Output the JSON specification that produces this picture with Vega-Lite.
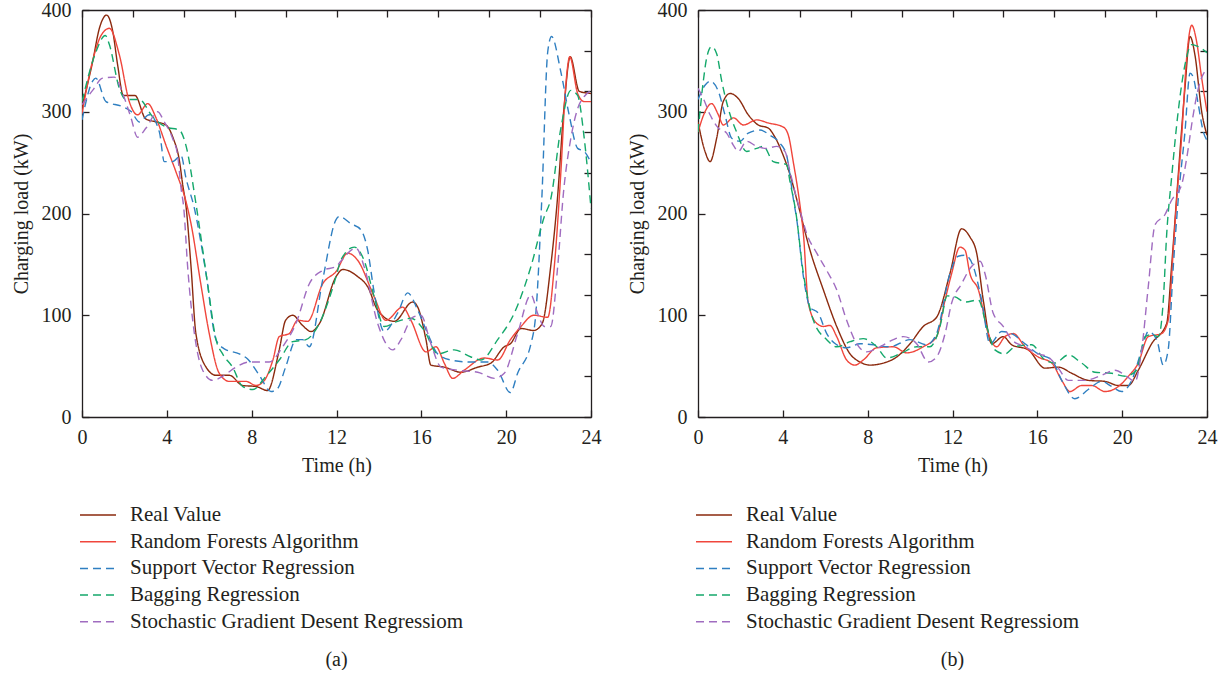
{
  "$schema": "https://vega.github.io/schema/vega-lite/v6.json",
  "padding": {"left": 11, "top": 0, "right": 5, "bottom": 0},
  "spacing": 26,
  "config": {
    "font": "Liberation Serif",
    "view": {"stroke": null},
    "axis": {"labelFont": "Liberation Serif", "labelFontSize": 20, "labelColor": "#231f20", "titleFont": "Liberation Serif", "titleFontSize": 20, "titleFontWeight": "normal", "titleColor": "#231f20", "domainColor": "#231f20", "tickColor": "#231f20", "grid": false, "domainWidth": 1.3, "tickWidth": 1.3, "tickSize": -7},
    "legend": {"labelFont": "Liberation Serif", "labelFontSize": 21, "labelColor": "#231f20", "labelLimit": 600},
    "title": {"font": "Liberation Serif", "fontSize": 20, "fontWeight": "normal", "color": "#231f20"}
  },
  "datasets": {
    "a": [
      {"m":"Real Value","t":0,"v":305},{"m":"Real Value","t":0.5,"v":349},{"m":"Real Value","t":0.82,"v":382},{"m":"Real Value","t":1.16,"v":395},{"m":"Real Value","t":1.45,"v":379},{"m":"Real Value","t":1.68,"v":346},{"m":"Real Value","t":1.95,"v":316},{"m":"Real Value","t":2.5,"v":316},{"m":"Real Value","t":3.0,"v":293},{"m":"Real Value","t":3.5,"v":290},{"m":"Real Value","t":3.96,"v":287},{"m":"Real Value","t":4.3,"v":274},{"m":"Real Value","t":4.6,"v":251},{"m":"Real Value","t":4.75,"v":228},{"m":"Real Value","t":4.9,"v":208},{"m":"Real Value","t":5.14,"v":148},{"m":"Real Value","t":5.37,"v":82},{"m":"Real Value","t":5.85,"v":49},{"m":"Real Value","t":6.32,"v":41},{"m":"Real Value","t":6.95,"v":41},{"m":"Real Value","t":7.57,"v":31},{"m":"Real Value","t":8.2,"v":30},{"m":"Real Value","t":8.75,"v":26},{"m":"Real Value","t":9.3,"v":66},{"m":"Real Value","t":9.6,"v":95},{"m":"Real Value","t":9.93,"v":100},{"m":"Real Value","t":10.4,"v":90},{"m":"Real Value","t":10.8,"v":84},{"m":"Real Value","t":11.2,"v":92},{"m":"Real Value","t":11.98,"v":138},{"m":"Real Value","t":12.3,"v":145},{"m":"Real Value","t":13.0,"v":138},{"m":"Real Value","t":13.47,"v":128},{"m":"Real Value","t":13.94,"v":105},{"m":"Real Value","t":14.72,"v":94},{"m":"Real Value","t":15.59,"v":113},{"m":"Real Value","t":15.83,"v":108},{"m":"Real Value","t":16.22,"v":76},{"m":"Real Value","t":16.45,"v":51},{"m":"Real Value","t":17.08,"v":49},{"m":"Real Value","t":17.87,"v":44},{"m":"Real Value","t":18.66,"v":49},{"m":"Real Value","t":19.28,"v":53},{"m":"Real Value","t":19.91,"v":69},{"m":"Real Value","t":20.2,"v":72},{"m":"Real Value","t":20.7,"v":87},{"m":"Real Value","t":21.3,"v":85},{"m":"Real Value","t":21.7,"v":92},{"m":"Real Value","t":22.1,"v":148},{"m":"Real Value","t":22.4,"v":210},{"m":"Real Value","t":22.74,"v":307},{"m":"Real Value","t":23.02,"v":354},{"m":"Real Value","t":23.45,"v":320},{"m":"Real Value","t":24,"v":318},
      {"m":"Random Forests Algorithm","t":0,"v":298},{"m":"Random Forests Algorithm","t":0.5,"v":350},{"m":"Random Forests Algorithm","t":0.9,"v":375},{"m":"Random Forests Algorithm","t":1.29,"v":382},{"m":"Random Forests Algorithm","t":1.76,"v":356},{"m":"Random Forests Algorithm","t":2.23,"v":310},{"m":"Random Forests Algorithm","t":2.62,"v":297},{"m":"Random Forests Algorithm","t":3.1,"v":308},{"m":"Random Forests Algorithm","t":3.49,"v":294},{"m":"Random Forests Algorithm","t":3.96,"v":267},{"m":"Random Forests Algorithm","t":4.43,"v":241},{"m":"Random Forests Algorithm","t":4.9,"v":212},{"m":"Random Forests Algorithm","t":5.14,"v":190},{"m":"Random Forests Algorithm","t":5.6,"v":131},{"m":"Random Forests Algorithm","t":6.0,"v":82},{"m":"Random Forests Algorithm","t":6.47,"v":43},{"m":"Random Forests Algorithm","t":6.95,"v":35},{"m":"Random Forests Algorithm","t":7.73,"v":35},{"m":"Random Forests Algorithm","t":8.2,"v":31},{"m":"Random Forests Algorithm","t":8.6,"v":36},{"m":"Random Forests Algorithm","t":9.0,"v":56},{"m":"Random Forests Algorithm","t":9.3,"v":79},{"m":"Random Forests Algorithm","t":9.77,"v":82},{"m":"Random Forests Algorithm","t":10.17,"v":95},{"m":"Random Forests Algorithm","t":10.64,"v":94},{"m":"Random Forests Algorithm","t":11.35,"v":131},{"m":"Random Forests Algorithm","t":11.98,"v":143},{"m":"Random Forests Algorithm","t":12.53,"v":161},{"m":"Random Forests Algorithm","t":13.0,"v":154},{"m":"Random Forests Algorithm","t":13.78,"v":118},{"m":"Random Forests Algorithm","t":14.33,"v":95},{"m":"Random Forests Algorithm","t":15.12,"v":108},{"m":"Random Forests Algorithm","t":15.51,"v":95},{"m":"Random Forests Algorithm","t":16.22,"v":64},{"m":"Random Forests Algorithm","t":16.69,"v":69},{"m":"Random Forests Algorithm","t":17.08,"v":53},{"m":"Random Forests Algorithm","t":17.48,"v":38},{"m":"Random Forests Algorithm","t":18.02,"v":46},{"m":"Random Forests Algorithm","t":18.97,"v":58},{"m":"Random Forests Algorithm","t":19.6,"v":56},{"m":"Random Forests Algorithm","t":20.2,"v":76},{"m":"Random Forests Algorithm","t":20.7,"v":89},{"m":"Random Forests Algorithm","t":21.3,"v":100},{"m":"Random Forests Algorithm","t":21.96,"v":98},{"m":"Random Forests Algorithm","t":22.27,"v":148},{"m":"Random Forests Algorithm","t":22.58,"v":241},{"m":"Random Forests Algorithm","t":22.8,"v":323},{"m":"Random Forests Algorithm","t":23.0,"v":354},{"m":"Random Forests Algorithm","t":23.37,"v":318},{"m":"Random Forests Algorithm","t":23.68,"v":310},{"m":"Random Forests Algorithm","t":24,"v":310},
      {"m":"Support Vector Regression","t":0,"v":292},{"m":"Support Vector Regression","t":0.5,"v":330},{"m":"Support Vector Regression","t":0.65,"v":333},{"m":"Support Vector Regression","t":1.13,"v":310},{"m":"Support Vector Regression","t":1.92,"v":305},{"m":"Support Vector Regression","t":2.33,"v":300},{"m":"Support Vector Regression","t":2.7,"v":290},{"m":"Support Vector Regression","t":3.17,"v":297},{"m":"Support Vector Regression","t":3.65,"v":280},{"m":"Support Vector Regression","t":3.88,"v":251},{"m":"Support Vector Regression","t":4.27,"v":251},{"m":"Support Vector Regression","t":4.67,"v":257},{"m":"Support Vector Regression","t":4.9,"v":235},{"m":"Support Vector Regression","t":5.3,"v":205},{"m":"Support Vector Regression","t":5.85,"v":141},{"m":"Support Vector Regression","t":6.32,"v":76},{"m":"Support Vector Regression","t":6.71,"v":67},{"m":"Support Vector Regression","t":7.42,"v":62},{"m":"Support Vector Regression","t":7.81,"v":57},{"m":"Support Vector Regression","t":8.36,"v":41},{"m":"Support Vector Regression","t":8.91,"v":25},{"m":"Support Vector Regression","t":9.22,"v":28},{"m":"Support Vector Regression","t":9.6,"v":49},{"m":"Support Vector Regression","t":10.1,"v":76},{"m":"Support Vector Regression","t":10.4,"v":76},{"m":"Support Vector Regression","t":10.72,"v":69},{"m":"Support Vector Regression","t":11.35,"v":135},{"m":"Support Vector Regression","t":11.98,"v":194},{"m":"Support Vector Regression","t":12.13,"v":197},{"m":"Support Vector Regression","t":12.68,"v":190},{"m":"Support Vector Regression","t":13.15,"v":184},{"m":"Support Vector Regression","t":13.47,"v":164},{"m":"Support Vector Regression","t":13.78,"v":122},{"m":"Support Vector Regression","t":14.25,"v":84},{"m":"Support Vector Regression","t":14.88,"v":102},{"m":"Support Vector Regression","t":15.36,"v":122},{"m":"Support Vector Regression","t":15.83,"v":105},{"m":"Support Vector Regression","t":16.3,"v":82},{"m":"Support Vector Regression","t":16.77,"v":62},{"m":"Support Vector Regression","t":17.4,"v":56},{"m":"Support Vector Regression","t":18.34,"v":54},{"m":"Support Vector Regression","t":19.13,"v":54},{"m":"Support Vector Regression","t":19.6,"v":46},{"m":"Support Vector Regression","t":20.2,"v":24},{"m":"Support Vector Regression","t":20.54,"v":43},{"m":"Support Vector Regression","t":21.17,"v":72},{"m":"Support Vector Regression","t":21.4,"v":102},{"m":"Support Vector Regression","t":21.68,"v":214},{"m":"Support Vector Regression","t":21.96,"v":359},{"m":"Support Vector Regression","t":22.14,"v":374},{"m":"Support Vector Regression","t":22.58,"v":339},{"m":"Support Vector Regression","t":22.97,"v":297},{"m":"Support Vector Regression","t":23.37,"v":264},{"m":"Support Vector Regression","t":23.68,"v":261},{"m":"Support Vector Regression","t":24,"v":250},
      {"m":"Bagging Regression","t":0,"v":310},{"m":"Bagging Regression","t":0.66,"v":359},{"m":"Bagging Regression","t":1.1,"v":375},{"m":"Bagging Regression","t":1.29,"v":366},{"m":"Bagging Regression","t":1.76,"v":323},{"m":"Bagging Regression","t":2.07,"v":312},{"m":"Bagging Regression","t":2.7,"v":312},{"m":"Bagging Regression","t":3.33,"v":295},{"m":"Bagging Regression","t":3.96,"v":285},{"m":"Bagging Regression","t":4.59,"v":282},{"m":"Bagging Regression","t":4.9,"v":267},{"m":"Bagging Regression","t":5.37,"v":210},{"m":"Bagging Regression","t":5.92,"v":131},{"m":"Bagging Regression","t":6.32,"v":76},{"m":"Bagging Regression","t":6.63,"v":62},{"m":"Bagging Regression","t":7.1,"v":49},{"m":"Bagging Regression","t":7.57,"v":30},{"m":"Bagging Regression","t":8.05,"v":27},{"m":"Bagging Regression","t":8.67,"v":40},{"m":"Bagging Regression","t":9.3,"v":56},{"m":"Bagging Regression","t":9.93,"v":74},{"m":"Bagging Regression","t":10.56,"v":76},{"m":"Bagging Regression","t":11.19,"v":92},{"m":"Bagging Regression","t":11.98,"v":138},{"m":"Bagging Regression","t":12.2,"v":154},{"m":"Bagging Regression","t":12.84,"v":167},{"m":"Bagging Regression","t":13.3,"v":154},{"m":"Bagging Regression","t":13.78,"v":118},{"m":"Bagging Regression","t":14.25,"v":89},{"m":"Bagging Regression","t":14.88,"v":94},{"m":"Bagging Regression","t":15.51,"v":97},{"m":"Bagging Regression","t":16.14,"v":85},{"m":"Bagging Regression","t":16.77,"v":62},{"m":"Bagging Regression","t":17.55,"v":66},{"m":"Bagging Regression","t":18.34,"v":59},{"m":"Bagging Regression","t":18.81,"v":56},{"m":"Bagging Regression","t":19.6,"v":76},{"m":"Bagging Regression","t":20.38,"v":102},{"m":"Bagging Regression","t":21.17,"v":148},{"m":"Bagging Regression","t":21.8,"v":197},{"m":"Bagging Regression","t":22.1,"v":214},{"m":"Bagging Regression","t":22.58,"v":284},{"m":"Bagging Regression","t":23.05,"v":321},{"m":"Bagging Regression","t":23.37,"v":316},{"m":"Bagging Regression","t":23.68,"v":274},{"m":"Bagging Regression","t":24,"v":205},
      {"m":"Stochastic Gradient Desent Regressiom","t":0,"v":307},{"m":"Stochastic Gradient Desent Regressiom","t":0.5,"v":321},{"m":"Stochastic Gradient Desent Regressiom","t":0.97,"v":333},{"m":"Stochastic Gradient Desent Regressiom","t":1.52,"v":334},{"m":"Stochastic Gradient Desent Regressiom","t":1.92,"v":318},{"m":"Stochastic Gradient Desent Regressiom","t":2.31,"v":294},{"m":"Stochastic Gradient Desent Regressiom","t":2.62,"v":275},{"m":"Stochastic Gradient Desent Regressiom","t":3.02,"v":284},{"m":"Stochastic Gradient Desent Regressiom","t":3.57,"v":300},{"m":"Stochastic Gradient Desent Regressiom","t":3.88,"v":290},{"m":"Stochastic Gradient Desent Regressiom","t":4.27,"v":274},{"m":"Stochastic Gradient Desent Regressiom","t":4.51,"v":257},{"m":"Stochastic Gradient Desent Regressiom","t":4.67,"v":225},{"m":"Stochastic Gradient Desent Regressiom","t":4.8,"v":205},{"m":"Stochastic Gradient Desent Regressiom","t":4.98,"v":148},{"m":"Stochastic Gradient Desent Regressiom","t":5.3,"v":82},{"m":"Stochastic Gradient Desent Regressiom","t":5.69,"v":46},{"m":"Stochastic Gradient Desent Regressiom","t":6.16,"v":36},{"m":"Stochastic Gradient Desent Regressiom","t":6.63,"v":40},{"m":"Stochastic Gradient Desent Regressiom","t":7.26,"v":49},{"m":"Stochastic Gradient Desent Regressiom","t":7.89,"v":54},{"m":"Stochastic Gradient Desent Regressiom","t":8.83,"v":54},{"m":"Stochastic Gradient Desent Regressiom","t":9.46,"v":69},{"m":"Stochastic Gradient Desent Regressiom","t":10.09,"v":92},{"m":"Stochastic Gradient Desent Regressiom","t":10.72,"v":131},{"m":"Stochastic Gradient Desent Regressiom","t":11.35,"v":144},{"m":"Stochastic Gradient Desent Regressiom","t":11.98,"v":148},{"m":"Stochastic Gradient Desent Regressiom","t":12.2,"v":153},{"m":"Stochastic Gradient Desent Regressiom","t":12.92,"v":166},{"m":"Stochastic Gradient Desent Regressiom","t":13.3,"v":148},{"m":"Stochastic Gradient Desent Regressiom","t":13.94,"v":92},{"m":"Stochastic Gradient Desent Regressiom","t":14.65,"v":66},{"m":"Stochastic Gradient Desent Regressiom","t":15.04,"v":76},{"m":"Stochastic Gradient Desent Regressiom","t":15.59,"v":98},{"m":"Stochastic Gradient Desent Regressiom","t":15.98,"v":100},{"m":"Stochastic Gradient Desent Regressiom","t":16.45,"v":72},{"m":"Stochastic Gradient Desent Regressiom","t":16.93,"v":49},{"m":"Stochastic Gradient Desent Regressiom","t":17.71,"v":46},{"m":"Stochastic Gradient Desent Regressiom","t":18.66,"v":44},{"m":"Stochastic Gradient Desent Regressiom","t":19.44,"v":38},{"m":"Stochastic Gradient Desent Regressiom","t":19.91,"v":43},{"m":"Stochastic Gradient Desent Regressiom","t":20.54,"v":82},{"m":"Stochastic Gradient Desent Regressiom","t":21.17,"v":120},{"m":"Stochastic Gradient Desent Regressiom","t":21.48,"v":102},{"m":"Stochastic Gradient Desent Regressiom","t":21.8,"v":89},{"m":"Stochastic Gradient Desent Regressiom","t":22.1,"v":89},{"m":"Stochastic Gradient Desent Regressiom","t":22.43,"v":148},{"m":"Stochastic Gradient Desent Regressiom","t":22.7,"v":220},{"m":"Stochastic Gradient Desent Regressiom","t":23.05,"v":274},{"m":"Stochastic Gradient Desent Regressiom","t":23.37,"v":303},{"m":"Stochastic Gradient Desent Regressiom","t":23.68,"v":315},{"m":"Stochastic Gradient Desent Regressiom","t":24,"v":321}
    ],
    "b": [
      {"m":"Real Value","t":0,"v":290},{"m":"Real Value","t":0.33,"v":261},{"m":"Real Value","t":0.57,"v":251},{"m":"Real Value","t":0.88,"v":274},{"m":"Real Value","t":1.19,"v":310},{"m":"Real Value","t":1.51,"v":318},{"m":"Real Value","t":1.9,"v":313},{"m":"Real Value","t":2.37,"v":297},{"m":"Real Value","t":2.84,"v":287},{"m":"Real Value","t":3.31,"v":284},{"m":"Real Value","t":3.63,"v":275},{"m":"Real Value","t":4.02,"v":257},{"m":"Real Value","t":4.34,"v":238},{"m":"Real Value","t":4.73,"v":208},{"m":"Real Value","t":5.28,"v":164},{"m":"Real Value","t":5.91,"v":125},{"m":"Real Value","t":6.54,"v":89},{"m":"Real Value","t":7.17,"v":62},{"m":"Real Value","t":7.64,"v":54},{"m":"Real Value","t":8.11,"v":51},{"m":"Real Value","t":8.74,"v":53},{"m":"Real Value","t":9.37,"v":59},{"m":"Real Value","t":10.0,"v":72},{"m":"Real Value","t":10.62,"v":89},{"m":"Real Value","t":11.25,"v":98},{"m":"Real Value","t":11.88,"v":141},{"m":"Real Value","t":12.43,"v":185},{"m":"Real Value","t":12.82,"v":177},{"m":"Real Value","t":13.14,"v":161},{"m":"Real Value","t":13.45,"v":115},{"m":"Real Value","t":13.85,"v":72},{"m":"Real Value","t":14.39,"v":79},{"m":"Real Value","t":14.79,"v":71},{"m":"Real Value","t":15.57,"v":66},{"m":"Real Value","t":16.36,"v":48},{"m":"Real Value","t":16.99,"v":49},{"m":"Real Value","t":17.62,"v":43},{"m":"Real Value","t":18.4,"v":36},{"m":"Real Value","t":19.19,"v":35},{"m":"Real Value","t":19.82,"v":31},{"m":"Real Value","t":20.29,"v":31},{"m":"Real Value","t":20.76,"v":46},{"m":"Real Value","t":21.39,"v":72},{"m":"Real Value","t":22.1,"v":92},{"m":"Real Value","t":22.33,"v":148},{"m":"Real Value","t":22.6,"v":225},{"m":"Real Value","t":22.96,"v":323},{"m":"Real Value","t":23.2,"v":374},{"m":"Real Value","t":23.43,"v":356},{"m":"Real Value","t":23.75,"v":300},{"m":"Real Value","t":24,"v":277},
      {"m":"Random Forests Algorithm","t":0,"v":280},{"m":"Random Forests Algorithm","t":0.33,"v":300},{"m":"Random Forests Algorithm","t":0.64,"v":308},{"m":"Random Forests Algorithm","t":0.96,"v":297},{"m":"Random Forests Algorithm","t":1.19,"v":287},{"m":"Random Forests Algorithm","t":1.67,"v":294},{"m":"Random Forests Algorithm","t":2.14,"v":287},{"m":"Random Forests Algorithm","t":2.77,"v":292},{"m":"Random Forests Algorithm","t":3.31,"v":289},{"m":"Random Forests Algorithm","t":4.02,"v":285},{"m":"Random Forests Algorithm","t":4.26,"v":277},{"m":"Random Forests Algorithm","t":4.49,"v":251},{"m":"Random Forests Algorithm","t":4.81,"v":208},{"m":"Random Forests Algorithm","t":4.97,"v":180},{"m":"Random Forests Algorithm","t":5.2,"v":112},{"m":"Random Forests Algorithm","t":5.6,"v":92},{"m":"Random Forests Algorithm","t":5.91,"v":89},{"m":"Random Forests Algorithm","t":6.22,"v":90},{"m":"Random Forests Algorithm","t":6.54,"v":79},{"m":"Random Forests Algorithm","t":7.01,"v":56},{"m":"Random Forests Algorithm","t":7.4,"v":51},{"m":"Random Forests Algorithm","t":7.79,"v":56},{"m":"Random Forests Algorithm","t":8.43,"v":68},{"m":"Random Forests Algorithm","t":9.21,"v":69},{"m":"Random Forests Algorithm","t":9.84,"v":63},{"m":"Random Forests Algorithm","t":10.62,"v":69},{"m":"Random Forests Algorithm","t":11.25,"v":79},{"m":"Random Forests Algorithm","t":11.65,"v":115},{"m":"Random Forests Algorithm","t":11.96,"v":141},{"m":"Random Forests Algorithm","t":12.35,"v":167},{"m":"Random Forests Algorithm","t":12.59,"v":164},{"m":"Random Forests Algorithm","t":12.82,"v":141},{"m":"Random Forests Algorithm","t":13.22,"v":125},{"m":"Random Forests Algorithm","t":13.69,"v":82},{"m":"Random Forests Algorithm","t":14.08,"v":69},{"m":"Random Forests Algorithm","t":14.47,"v":79},{"m":"Random Forests Algorithm","t":14.87,"v":82},{"m":"Random Forests Algorithm","t":15.42,"v":69},{"m":"Random Forests Algorithm","t":16.04,"v":59},{"m":"Random Forests Algorithm","t":16.68,"v":53},{"m":"Random Forests Algorithm","t":17.15,"v":36},{"m":"Random Forests Algorithm","t":17.54,"v":25},{"m":"Random Forests Algorithm","t":18.09,"v":31},{"m":"Random Forests Algorithm","t":18.56,"v":31},{"m":"Random Forests Algorithm","t":19.19,"v":25},{"m":"Random Forests Algorithm","t":19.82,"v":30},{"m":"Random Forests Algorithm","t":20.29,"v":40},{"m":"Random Forests Algorithm","t":20.76,"v":53},{"m":"Random Forests Algorithm","t":21.23,"v":79},{"m":"Random Forests Algorithm","t":21.86,"v":82},{"m":"Random Forests Algorithm","t":22.17,"v":95},{"m":"Random Forests Algorithm","t":22.41,"v":164},{"m":"Random Forests Algorithm","t":22.57,"v":213},{"m":"Random Forests Algorithm","t":22.8,"v":274},{"m":"Random Forests Algorithm","t":23.04,"v":353},{"m":"Random Forests Algorithm","t":23.28,"v":385},{"m":"Random Forests Algorithm","t":23.51,"v":369},{"m":"Random Forests Algorithm","t":23.75,"v":333},{"m":"Random Forests Algorithm","t":24,"v":300},
      {"m":"Support Vector Regression","t":0,"v":312},{"m":"Support Vector Regression","t":0.33,"v":326},{"m":"Support Vector Regression","t":0.57,"v":330},{"m":"Support Vector Regression","t":0.96,"v":320},{"m":"Support Vector Regression","t":1.27,"v":297},{"m":"Support Vector Regression","t":1.59,"v":274},{"m":"Support Vector Regression","t":1.98,"v":271},{"m":"Support Vector Regression","t":2.37,"v":279},{"m":"Support Vector Regression","t":2.92,"v":282},{"m":"Support Vector Regression","t":3.39,"v":277},{"m":"Support Vector Regression","t":3.87,"v":269},{"m":"Support Vector Regression","t":4.18,"v":257},{"m":"Support Vector Regression","t":4.49,"v":215},{"m":"Support Vector Regression","t":4.65,"v":195},{"m":"Support Vector Regression","t":4.97,"v":138},{"m":"Support Vector Regression","t":5.28,"v":108},{"m":"Support Vector Regression","t":5.67,"v":102},{"m":"Support Vector Regression","t":6.07,"v":82},{"m":"Support Vector Regression","t":6.54,"v":71},{"m":"Support Vector Regression","t":7.01,"v":68},{"m":"Support Vector Regression","t":7.64,"v":72},{"m":"Support Vector Regression","t":8.27,"v":71},{"m":"Support Vector Regression","t":9.05,"v":69},{"m":"Support Vector Regression","t":10.0,"v":76},{"m":"Support Vector Regression","t":10.78,"v":71},{"m":"Support Vector Regression","t":11.25,"v":82},{"m":"Support Vector Regression","t":11.88,"v":141},{"m":"Support Vector Regression","t":12.27,"v":158},{"m":"Support Vector Regression","t":12.59,"v":159},{"m":"Support Vector Regression","t":12.98,"v":148},{"m":"Support Vector Regression","t":13.37,"v":115},{"m":"Support Vector Regression","t":13.77,"v":72},{"m":"Support Vector Regression","t":14.32,"v":84},{"m":"Support Vector Regression","t":14.79,"v":82},{"m":"Support Vector Regression","t":15.42,"v":72},{"m":"Support Vector Regression","t":16.04,"v":62},{"m":"Support Vector Regression","t":16.68,"v":56},{"m":"Support Vector Regression","t":17.15,"v":36},{"m":"Support Vector Regression","t":17.77,"v":18},{"m":"Support Vector Regression","t":18.4,"v":27},{"m":"Support Vector Regression","t":19.03,"v":35},{"m":"Support Vector Regression","t":19.5,"v":30},{"m":"Support Vector Regression","t":19.98,"v":25},{"m":"Support Vector Regression","t":20.45,"v":36},{"m":"Support Vector Regression","t":20.92,"v":66},{"m":"Support Vector Regression","t":21.23,"v":84},{"m":"Support Vector Regression","t":21.63,"v":76},{"m":"Support Vector Regression","t":21.94,"v":51},{"m":"Support Vector Regression","t":22.17,"v":66},{"m":"Support Vector Regression","t":22.41,"v":148},{"m":"Support Vector Regression","t":22.64,"v":213},{"m":"Support Vector Regression","t":22.96,"v":280},{"m":"Support Vector Regression","t":23.2,"v":338},{"m":"Support Vector Regression","t":23.35,"v":334},{"m":"Support Vector Regression","t":23.59,"v":307},{"m":"Support Vector Regression","t":23.83,"v":280},{"m":"Support Vector Regression","t":24,"v":272},
      {"m":"Bagging Regression","t":0,"v":280},{"m":"Bagging Regression","t":0.25,"v":330},{"m":"Bagging Regression","t":0.41,"v":353},{"m":"Bagging Regression","t":0.64,"v":364},{"m":"Bagging Regression","t":0.88,"v":357},{"m":"Bagging Regression","t":1.12,"v":330},{"m":"Bagging Regression","t":1.43,"v":303},{"m":"Bagging Regression","t":1.82,"v":280},{"m":"Bagging Regression","t":2.29,"v":261},{"m":"Bagging Regression","t":2.77,"v":264},{"m":"Bagging Regression","t":3.08,"v":266},{"m":"Bagging Regression","t":3.55,"v":251},{"m":"Bagging Regression","t":4.18,"v":248},{"m":"Bagging Regression","t":4.34,"v":231},{"m":"Bagging Regression","t":4.6,"v":203},{"m":"Bagging Regression","t":4.97,"v":141},{"m":"Bagging Regression","t":5.44,"v":95},{"m":"Bagging Regression","t":6.07,"v":76},{"m":"Bagging Regression","t":6.54,"v":69},{"m":"Bagging Regression","t":7.17,"v":74},{"m":"Bagging Regression","t":7.79,"v":77},{"m":"Bagging Regression","t":8.43,"v":69},{"m":"Bagging Regression","t":8.9,"v":58},{"m":"Bagging Regression","t":9.52,"v":62},{"m":"Bagging Regression","t":10.31,"v":69},{"m":"Bagging Regression","t":10.94,"v":69},{"m":"Bagging Regression","t":11.41,"v":89},{"m":"Bagging Regression","t":11.75,"v":119},{"m":"Bagging Regression","t":12.12,"v":118},{"m":"Bagging Regression","t":12.59,"v":113},{"m":"Bagging Regression","t":13.22,"v":115},{"m":"Bagging Regression","t":13.61,"v":89},{"m":"Bagging Regression","t":14.0,"v":66},{"m":"Bagging Regression","t":14.47,"v":62},{"m":"Bagging Regression","t":14.94,"v":69},{"m":"Bagging Regression","t":15.73,"v":71},{"m":"Bagging Regression","t":16.36,"v":56},{"m":"Bagging Regression","t":16.83,"v":53},{"m":"Bagging Regression","t":17.46,"v":61},{"m":"Bagging Regression","t":18.09,"v":53},{"m":"Bagging Regression","t":18.72,"v":44},{"m":"Bagging Regression","t":19.5,"v":43},{"m":"Bagging Regression","t":20.14,"v":40},{"m":"Bagging Regression","t":20.68,"v":46},{"m":"Bagging Regression","t":21.08,"v":79},{"m":"Bagging Regression","t":21.39,"v":81},{"m":"Bagging Regression","t":21.71,"v":79},{"m":"Bagging Regression","t":21.94,"v":115},{"m":"Bagging Regression","t":22.1,"v":180},{"m":"Bagging Regression","t":22.33,"v":235},{"m":"Bagging Regression","t":22.64,"v":300},{"m":"Bagging Regression","t":22.96,"v":346},{"m":"Bagging Regression","t":23.28,"v":366},{"m":"Bagging Regression","t":23.59,"v":364},{"m":"Bagging Regression","t":24,"v":358},
      {"m":"Stochastic Gradient Desent Regressiom","t":0,"v":323},{"m":"Stochastic Gradient Desent Regressiom","t":0.25,"v":313},{"m":"Stochastic Gradient Desent Regressiom","t":0.57,"v":297},{"m":"Stochastic Gradient Desent Regressiom","t":0.96,"v":284},{"m":"Stochastic Gradient Desent Regressiom","t":1.35,"v":279},{"m":"Stochastic Gradient Desent Regressiom","t":1.67,"v":267},{"m":"Stochastic Gradient Desent Regressiom","t":1.9,"v":261},{"m":"Stochastic Gradient Desent Regressiom","t":2.29,"v":271},{"m":"Stochastic Gradient Desent Regressiom","t":2.77,"v":266},{"m":"Stochastic Gradient Desent Regressiom","t":3.24,"v":264},{"m":"Stochastic Gradient Desent Regressiom","t":3.71,"v":266},{"m":"Stochastic Gradient Desent Regressiom","t":4.1,"v":261},{"m":"Stochastic Gradient Desent Regressiom","t":4.34,"v":241},{"m":"Stochastic Gradient Desent Regressiom","t":4.65,"v":215},{"m":"Stochastic Gradient Desent Regressiom","t":4.81,"v":203},{"m":"Stochastic Gradient Desent Regressiom","t":5.13,"v":180},{"m":"Stochastic Gradient Desent Regressiom","t":5.6,"v":161},{"m":"Stochastic Gradient Desent Regressiom","t":6.07,"v":144},{"m":"Stochastic Gradient Desent Regressiom","t":6.54,"v":125},{"m":"Stochastic Gradient Desent Regressiom","t":7.01,"v":95},{"m":"Stochastic Gradient Desent Regressiom","t":7.48,"v":72},{"m":"Stochastic Gradient Desent Regressiom","t":7.95,"v":64},{"m":"Stochastic Gradient Desent Regressiom","t":8.58,"v":69},{"m":"Stochastic Gradient Desent Regressiom","t":9.21,"v":76},{"m":"Stochastic Gradient Desent Regressiom","t":9.68,"v":79},{"m":"Stochastic Gradient Desent Regressiom","t":10.31,"v":72},{"m":"Stochastic Gradient Desent Regressiom","t":10.86,"v":54},{"m":"Stochastic Gradient Desent Regressiom","t":11.25,"v":59},{"m":"Stochastic Gradient Desent Regressiom","t":11.65,"v":82},{"m":"Stochastic Gradient Desent Regressiom","t":11.96,"v":112},{"m":"Stochastic Gradient Desent Regressiom","t":12.43,"v":131},{"m":"Stochastic Gradient Desent Regressiom","t":12.9,"v":148},{"m":"Stochastic Gradient Desent Regressiom","t":13.3,"v":153},{"m":"Stochastic Gradient Desent Regressiom","t":13.53,"v":141},{"m":"Stochastic Gradient Desent Regressiom","t":13.92,"v":102},{"m":"Stochastic Gradient Desent Regressiom","t":14.39,"v":89},{"m":"Stochastic Gradient Desent Regressiom","t":14.79,"v":76},{"m":"Stochastic Gradient Desent Regressiom","t":15.42,"v":69},{"m":"Stochastic Gradient Desent Regressiom","t":16.04,"v":62},{"m":"Stochastic Gradient Desent Regressiom","t":16.51,"v":59},{"m":"Stochastic Gradient Desent Regressiom","t":16.99,"v":48},{"m":"Stochastic Gradient Desent Regressiom","t":17.46,"v":36},{"m":"Stochastic Gradient Desent Regressiom","t":18.24,"v":36},{"m":"Stochastic Gradient Desent Regressiom","t":19.03,"v":41},{"m":"Stochastic Gradient Desent Regressiom","t":19.66,"v":46},{"m":"Stochastic Gradient Desent Regressiom","t":20.21,"v":40},{"m":"Stochastic Gradient Desent Regressiom","t":20.61,"v":35},{"m":"Stochastic Gradient Desent Regressiom","t":20.92,"v":66},{"m":"Stochastic Gradient Desent Regressiom","t":21.23,"v":128},{"m":"Stochastic Gradient Desent Regressiom","t":21.55,"v":189},{"m":"Stochastic Gradient Desent Regressiom","t":22.02,"v":199},{"m":"Stochastic Gradient Desent Regressiom","t":22.33,"v":213},{"m":"Stochastic Gradient Desent Regressiom","t":22.8,"v":228},{"m":"Stochastic Gradient Desent Regressiom","t":23.04,"v":254},{"m":"Stochastic Gradient Desent Regressiom","t":23.35,"v":297},{"m":"Stochastic Gradient Desent Regressiom","t":23.59,"v":323},{"m":"Stochastic Gradient Desent Regressiom","t":24,"v":343}
    ]
  },
  "resolve": {"legend": {"color": "independent", "strokeDash": "independent"}},
  "hconcat": [
    {
      "width": 509, "height": 407,
      "data": {"name": "a"},
      "title": {"text": "(a)", "orient": "bottom", "anchor": "middle", "offset": 18},
      "layer": [
        {
          "mark": {"type": "line", "interpolate": "monotone", "strokeWidth": 1.4, "clip": true},
          "encoding": {
            "x": {"field": "t", "type": "quantitative", "scale": {"domain": [0, 24], "nice": false}, "axis": {"orient": "bottom", "values": [0,4,8,12,16,20,24], "format": "d", "title": "Time (h)", "labelPadding": 17, "titlePadding": 8, "labelFlush": false}},
            "y": {"field": "v", "type": "quantitative", "scale": {"domain": [0, 400], "nice": false}, "axis": {"orient": "left", "values": [0,100,200,300,400], "format": "d", "title": "Charging load (kW)", "labelPadding": 18, "titlePadding": 10, "labelFlush": false}},
            "color": {"field": "m", "type": "nominal", "scale": {"domain": ["Real Value","Random Forests Algorithm","Support Vector Regression","Bagging Regression","Stochastic Gradient Desent Regressiom"], "range": ["#8b2a0e","#f0463c","#2f7fc1","#14a86b","#a06cc0"]}, "legend": {"title": null, "orient": "none", "legendX": 5, "legendY": 494, "symbolType": "M-1.8,0H1.8", "symbolSize": 400, "symbolStrokeWidth": 1.5, "labelOffset": 21, "rowPadding": 5.7}},
            "strokeDash": {"field": "m", "type": "nominal", "scale": {"domain": ["Real Value","Random Forests Algorithm","Support Vector Regression","Bagging Regression","Stochastic Gradient Desent Regressiom"], "range": [[1,0],[1,0],[8,5],[8,5],[8,5]]}, "legend": {"title": null, "orient": "none", "legendX": 5, "legendY": 494, "symbolType": "M-1.8,0H1.8", "symbolSize": 400, "symbolStrokeWidth": 1.5, "labelOffset": 21, "rowPadding": 5.7}}
          }
        },
        {
          "mark": {"type": "line", "opacity": 0},
          "encoding": {
            "x": {"field": "t", "type": "quantitative", "axis": {"orient": "top", "values": [0,2.4,4.8,7.2,9.6,12,14.4,16.8,19.2,21.6,24], "labels": false, "title": null}},
            "y": {"field": "v", "type": "quantitative", "axis": {"orient": "right", "values": [0,40,80,120,160,200,240,280,320,360,400], "labels": false, "title": null}},
            "detail": {"field": "m"}
          }
        }
      ],
      "resolve": {"axis": {"x": "independent", "y": "independent"}}
    },
    {
      "width": 509, "height": 407,
      "data": {"name": "b"},
      "title": {"text": "(b)", "orient": "bottom", "anchor": "middle", "offset": 18},
      "layer": [
        {
          "mark": {"type": "line", "interpolate": "monotone", "strokeWidth": 1.4, "clip": true},
          "encoding": {
            "x": {"field": "t", "type": "quantitative", "scale": {"domain": [0, 24], "nice": false}, "axis": {"orient": "bottom", "values": [0,4,8,12,16,20,24], "format": "d", "title": "Time (h)", "labelPadding": 17, "titlePadding": 8, "labelFlush": false}},
            "y": {"field": "v", "type": "quantitative", "scale": {"domain": [0, 400], "nice": false}, "axis": {"orient": "left", "values": [0,100,200,300,400], "format": "d", "title": "Charging load (kW)", "labelPadding": 18, "titlePadding": 10, "labelFlush": false}},
            "color": {"field": "m", "type": "nominal", "scale": {"domain": ["Real Value","Random Forests Algorithm","Support Vector Regression","Bagging Regression","Stochastic Gradient Desent Regressiom"], "range": ["#8b2a0e","#f0463c","#2f7fc1","#14a86b","#a06cc0"]}, "legend": {"title": null, "orient": "none", "legendX": 5, "legendY": 494, "symbolType": "M-1.8,0H1.8", "symbolSize": 400, "symbolStrokeWidth": 1.5, "labelOffset": 21, "rowPadding": 5.7}},
            "strokeDash": {"field": "m", "type": "nominal", "scale": {"domain": ["Real Value","Random Forests Algorithm","Support Vector Regression","Bagging Regression","Stochastic Gradient Desent Regressiom"], "range": [[1,0],[1,0],[8,5],[8,5],[8,5]]}, "legend": {"title": null, "orient": "none", "legendX": 5, "legendY": 494, "symbolType": "M-1.8,0H1.8", "symbolSize": 400, "symbolStrokeWidth": 1.5, "labelOffset": 21, "rowPadding": 5.7}}
          }
        },
        {
          "mark": {"type": "line", "opacity": 0},
          "encoding": {
            "x": {"field": "t", "type": "quantitative", "axis": {"orient": "top", "values": [0,2.4,4.8,7.2,9.6,12,14.4,16.8,19.2,21.6,24], "labels": false, "title": null}},
            "y": {"field": "v", "type": "quantitative", "axis": {"orient": "right", "values": [0,40,80,120,160,200,240,280,320,360,400], "labels": false, "title": null}},
            "detail": {"field": "m"}
          }
        }
      ],
      "resolve": {"axis": {"x": "independent", "y": "independent"}}
    }
  ]
}
